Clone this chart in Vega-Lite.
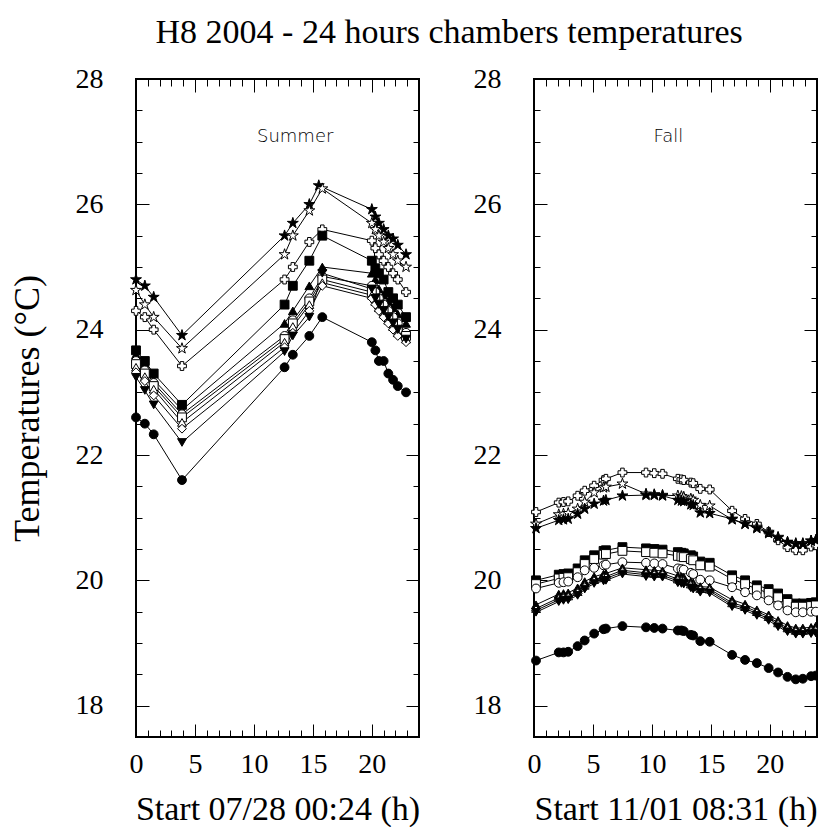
{
  "$schema": "https://vega.github.io/schema/vega-lite/v6.json",
  "padding": {"left": 8, "top": 16, "right": 0, "bottom": 0},
  "title": {"text": "H8 2004 - 24 hours chambers temperatures", "font": "Liberation Serif", "fontSize": 34, "fontWeight": "normal", "color": "black", "anchor": "middle", "offset": 14, "dx": 33},
  "config": {
    "view": {"stroke": "black", "strokeWidth": 2},
    "axis": {"domain": false, "grid": false, "labelFont": "Liberation Serif", "labelFontSize": 28, "labelColor": "black", "titleFont": "Liberation Serif", "titleFontSize": 34, "titleFontWeight": "normal", "titleColor": "black", "tickColor": "black", "tickWidth": 1, "labelOverlap": false, "labelFlush": false}
  },
  "spacing": 51,
  "datasets": {
    "summer": [
      {"s":"ST","t":0,"v":24.8},{"s":"ST","t":0.75,"v":24.7},{"s":"ST","t":1.5,"v":24.52},{"s":"ST","t":3.9,"v":23.91},{"s":"ST","t":12.6,"v":25.5},{"s":"ST","t":13.3,"v":25.7},{"s":"ST","t":14.7,"v":26.0},{"s":"ST","t":15.5,"v":26.3},{"s":"ST","t":20.0,"v":25.92},{"s":"ST","t":20.3,"v":25.8},{"s":"ST","t":20.6,"v":25.7},{"s":"ST","t":21.0,"v":25.6},{"s":"ST","t":21.4,"v":25.5},{"s":"ST","t":21.8,"v":25.45},{"s":"ST","t":22.2,"v":25.35},{"s":"ST","t":22.9,"v":25.2},
      {"s":"OSt","t":0,"v":24.63},{"s":"OSt","t":0.75,"v":24.4},{"s":"OSt","t":1.5,"v":24.2},{"s":"OSt","t":3.9,"v":23.7},{"s":"OSt","t":12.6,"v":25.2},{"s":"OSt","t":13.3,"v":25.5},{"s":"OSt","t":14.7,"v":25.9},{"s":"OSt","t":15.8,"v":26.25},{"s":"OSt","t":20.0,"v":25.7},{"s":"OSt","t":20.3,"v":25.6},{"s":"OSt","t":20.6,"v":25.5},{"s":"OSt","t":21.0,"v":25.4},{"s":"OSt","t":21.4,"v":25.3},{"s":"OSt","t":21.8,"v":25.2},{"s":"OSt","t":22.2,"v":25.1},{"s":"OSt","t":22.9,"v":25.0},
      {"s":"OX","t":0,"v":24.3},{"s":"OX","t":0.75,"v":24.2},{"s":"OX","t":1.5,"v":24.0},{"s":"OX","t":3.9,"v":23.42},{"s":"OX","t":12.6,"v":24.8},{"s":"OX","t":13.3,"v":25.0},{"s":"OX","t":14.7,"v":25.4},{"s":"OX","t":15.8,"v":25.6},{"s":"OX","t":20.0,"v":25.42},{"s":"OX","t":20.3,"v":25.3},{"s":"OX","t":20.6,"v":25.2},{"s":"OX","t":21.0,"v":25.1},{"s":"OX","t":21.4,"v":25.0},{"s":"OX","t":21.8,"v":24.9},{"s":"OX","t":22.2,"v":24.8},{"s":"OX","t":22.9,"v":24.6},
      {"s":"FS","t":0,"v":23.67},{"s":"FS","t":0.75,"v":23.5},{"s":"FS","t":1.5,"v":23.3},{"s":"FS","t":3.9,"v":22.8},{"s":"FS","t":12.6,"v":24.4},{"s":"FS","t":13.3,"v":24.7},{"s":"FS","t":14.7,"v":25.1},{"s":"FS","t":15.8,"v":25.5},{"s":"FS","t":20.0,"v":25.1},{"s":"FS","t":20.3,"v":24.98},{"s":"FS","t":20.6,"v":24.9},{"s":"FS","t":21.0,"v":24.8},{"s":"FS","t":21.4,"v":24.6},{"s":"FS","t":21.8,"v":24.5},{"s":"FS","t":22.2,"v":24.4},{"s":"FS","t":22.9,"v":24.2},
      {"s":"FT","t":0,"v":23.6},{"s":"FT","t":0.75,"v":23.45},{"s":"FT","t":1.5,"v":23.2},{"s":"FT","t":3.9,"v":22.72},{"s":"FT","t":12.6,"v":24.1},{"s":"FT","t":13.3,"v":24.3},{"s":"FT","t":14.7,"v":24.7},{"s":"FT","t":15.8,"v":25.0},{"s":"FT","t":20.0,"v":24.9},{"s":"FT","t":20.3,"v":24.8},{"s":"FT","t":20.6,"v":24.65},{"s":"FT","t":21.0,"v":24.55},{"s":"FT","t":21.4,"v":24.45},{"s":"FT","t":21.8,"v":24.35},{"s":"FT","t":22.2,"v":24.25},{"s":"FT","t":22.9,"v":24.1},
      {"s":"OC","t":0,"v":23.5},{"s":"OC","t":0.75,"v":23.35},{"s":"OC","t":1.5,"v":23.15},{"s":"OC","t":3.9,"v":22.65},{"s":"OC","t":12.6,"v":23.9},{"s":"OC","t":13.3,"v":24.15},{"s":"OC","t":14.7,"v":24.5},{"s":"OC","t":15.8,"v":24.85},{"s":"OC","t":20.0,"v":24.7},{"s":"OC","t":20.3,"v":24.6},{"s":"OC","t":20.6,"v":24.5},{"s":"OC","t":21.0,"v":24.4},{"s":"OC","t":21.4,"v":24.3},{"s":"OC","t":21.8,"v":24.2},{"s":"OC","t":22.2,"v":24.1},{"s":"OC","t":22.9,"v":23.95},
      {"s":"OS","t":0,"v":23.45},{"s":"OS","t":0.75,"v":23.3},{"s":"OS","t":1.5,"v":23.1},{"s":"OS","t":3.9,"v":22.6},{"s":"OS","t":12.6,"v":23.85},{"s":"OS","t":13.3,"v":24.1},{"s":"OS","t":14.7,"v":24.45},{"s":"OS","t":15.8,"v":24.8},{"s":"OS","t":20.0,"v":24.6},{"s":"OS","t":20.3,"v":24.5},{"s":"OS","t":20.6,"v":24.4},{"s":"OS","t":21.0,"v":24.3},{"s":"OS","t":21.4,"v":24.2},{"s":"OS","t":21.8,"v":24.1},{"s":"OS","t":22.2,"v":24.0},{"s":"OS","t":22.9,"v":23.9},
      {"s":"OT","t":0,"v":23.4},{"s":"OT","t":0.75,"v":23.25},{"s":"OT","t":1.5,"v":23.05},{"s":"OT","t":3.9,"v":22.52},{"s":"OT","t":12.6,"v":23.8},{"s":"OT","t":13.3,"v":24.05},{"s":"OT","t":14.7,"v":24.4},{"s":"OT","t":15.8,"v":24.75},{"s":"OT","t":20.0,"v":24.55},{"s":"OT","t":20.3,"v":24.45},{"s":"OT","t":20.6,"v":24.35},{"s":"OT","t":21.0,"v":24.25},{"s":"OT","t":21.4,"v":24.15},{"s":"OT","t":21.8,"v":24.05},{"s":"OT","t":22.2,"v":23.95},{"s":"OT","t":22.9,"v":23.85},
      {"s":"OD","t":0,"v":23.32},{"s":"OD","t":0.75,"v":23.18},{"s":"OD","t":1.5,"v":22.95},{"s":"OD","t":3.9,"v":22.42},{"s":"OD","t":12.6,"v":23.72},{"s":"OD","t":13.3,"v":23.95},{"s":"OD","t":14.7,"v":24.3},{"s":"OD","t":15.8,"v":24.7},{"s":"OD","t":20.0,"v":24.5},{"s":"OD","t":20.3,"v":24.4},{"s":"OD","t":20.6,"v":24.3},{"s":"OD","t":21.0,"v":24.2},{"s":"OD","t":21.4,"v":24.1},{"s":"OD","t":21.8,"v":24.0},{"s":"OD","t":22.2,"v":23.9},{"s":"OD","t":22.9,"v":23.8},
      {"s":"FD","t":0,"v":23.24},{"s":"FD","t":0.75,"v":23.03},{"s":"FD","t":1.5,"v":22.8},{"s":"FD","t":3.9,"v":22.2},{"s":"FD","t":12.6,"v":23.65},{"s":"FD","t":13.3,"v":23.9},{"s":"FD","t":14.7,"v":24.2},{"s":"FD","t":15.8,"v":24.9},{"s":"FD","t":20.0,"v":24.65},{"s":"FD","t":20.3,"v":24.5},{"s":"FD","t":20.6,"v":24.4},{"s":"FD","t":21.0,"v":24.3},{"s":"FD","t":21.4,"v":24.2},{"s":"FD","t":21.8,"v":24.1},{"s":"FD","t":22.2,"v":24.0},{"s":"FD","t":22.9,"v":23.85},
      {"s":"FC","t":0,"v":22.6},{"s":"FC","t":0.75,"v":22.5},{"s":"FC","t":1.5,"v":22.33},{"s":"FC","t":3.9,"v":21.6},{"s":"FC","t":12.6,"v":23.4},{"s":"FC","t":13.3,"v":23.6},{"s":"FC","t":14.7,"v":23.9},{"s":"FC","t":15.8,"v":24.2},{"s":"FC","t":20.0,"v":23.8},{"s":"FC","t":20.3,"v":23.67},{"s":"FC","t":20.6,"v":23.5},{"s":"FC","t":21.0,"v":23.5},{"s":"FC","t":21.4,"v":23.3},{"s":"FC","t":21.8,"v":23.2},{"s":"FC","t":22.2,"v":23.1},{"s":"FC","t":22.9,"v":23.0}
    ],
    "fall": [
      {"s":"FC","t":0.17,"v":18.72},{"s":"FC","t":2.1,"v":18.85},{"s":"FC","t":2.5,"v":18.85},{"s":"FC","t":2.9,"v":18.86},{"s":"FC","t":3.7,"v":18.95},{"s":"FC","t":4.3,"v":19.04},{"s":"FC","t":5.1,"v":19.15},{"s":"FC","t":5.9,"v":19.22},{"s":"FC","t":6.1,"v":19.23},{"s":"FC","t":7.5,"v":19.27},{"s":"FC","t":9.5,"v":19.25},{"s":"FC","t":10.2,"v":19.24},{"s":"FC","t":10.9,"v":19.23},{"s":"FC","t":12.2,"v":19.2},{"s":"FC","t":12.5,"v":19.2},{"s":"FC","t":12.7,"v":19.19},{"s":"FC","t":13.3,"v":19.13},{"s":"FC","t":13.5,"v":19.12},{"s":"FC","t":14.1,"v":19.03},{"s":"FC","t":14.9,"v":19.02},{"s":"FC","t":16.8,"v":18.81},{"s":"FC","t":17.9,"v":18.73},{"s":"FC","t":18.9,"v":18.68},{"s":"FC","t":19.9,"v":18.6},{"s":"FC","t":20.7,"v":18.53},{"s":"FC","t":21.5,"v":18.46},{"s":"FC","t":22.2,"v":18.42},{"s":"FC","t":22.8,"v":18.43},{"s":"FC","t":23.5,"v":18.47},{"s":"FC","t":23.9,"v":18.48},
      {"s":"OX","t":0.17,"v":21.09},{"s":"OX","t":2.1,"v":21.24},{"s":"OX","t":2.5,"v":21.25},{"s":"OX","t":2.9,"v":21.26},{"s":"OX","t":3.7,"v":21.35},{"s":"OX","t":4.3,"v":21.43},{"s":"OX","t":5.1,"v":21.51},{"s":"OX","t":5.9,"v":21.6},{"s":"OX","t":6.1,"v":21.62},{"s":"OX","t":7.5,"v":21.72},{"s":"OX","t":9.5,"v":21.72},{"s":"OX","t":10.2,"v":21.71},{"s":"OX","t":10.9,"v":21.7},{"s":"OX","t":12.2,"v":21.62},{"s":"OX","t":12.5,"v":21.61},{"s":"OX","t":12.7,"v":21.6},{"s":"OX","t":13.3,"v":21.56},{"s":"OX","t":13.5,"v":21.55},{"s":"OX","t":14.1,"v":21.46},{"s":"OX","t":14.9,"v":21.45},{"s":"OX","t":16.8,"v":21.11},{"s":"OX","t":17.9,"v":20.98},{"s":"OX","t":18.9,"v":20.9},{"s":"OX","t":19.9,"v":20.77},{"s":"OX","t":20.7,"v":20.64},{"s":"OX","t":21.5,"v":20.53},{"s":"OX","t":22.2,"v":20.48},{"s":"OX","t":22.8,"v":20.48},{"s":"OX","t":23.5,"v":20.54},{"s":"OX","t":23.9,"v":20.56},
      {"s":"OSt","t":0.17,"v":20.9},{"s":"OSt","t":2.1,"v":21.05},{"s":"OSt","t":2.5,"v":21.06},{"s":"OSt","t":2.9,"v":21.07},{"s":"OSt","t":3.7,"v":21.14},{"s":"OSt","t":4.3,"v":21.25},{"s":"OSt","t":5.1,"v":21.4},{"s":"OSt","t":5.9,"v":21.48},{"s":"OSt","t":6.1,"v":21.49},{"s":"OSt","t":7.5,"v":21.54},{"s":"OSt","t":9.5,"v":21.38},{"s":"OSt","t":10.2,"v":21.37},{"s":"OSt","t":10.9,"v":21.36},{"s":"OSt","t":12.2,"v":21.35},{"s":"OSt","t":12.5,"v":21.34},{"s":"OSt","t":12.7,"v":21.33},{"s":"OSt","t":13.3,"v":21.3},{"s":"OSt","t":13.5,"v":21.28},{"s":"OSt","t":14.1,"v":21.2},{"s":"OSt","t":14.9,"v":21.19},{"s":"OSt","t":16.8,"v":20.97},{"s":"OSt","t":17.9,"v":20.9},{"s":"OSt","t":18.9,"v":20.85},{"s":"OSt","t":19.9,"v":20.77},{"s":"OSt","t":20.7,"v":20.69},{"s":"OSt","t":21.5,"v":20.61},{"s":"OSt","t":22.2,"v":20.59},{"s":"OSt","t":22.8,"v":20.59},{"s":"OSt","t":23.5,"v":20.63},{"s":"OSt","t":23.9,"v":20.64},
      {"s":"ST","t":0.17,"v":20.83},{"s":"ST","t":2.1,"v":20.96},{"s":"ST","t":2.5,"v":20.97},{"s":"ST","t":2.9,"v":20.98},{"s":"ST","t":3.7,"v":21.06},{"s":"ST","t":4.3,"v":21.14},{"s":"ST","t":5.1,"v":21.22},{"s":"ST","t":5.9,"v":21.27},{"s":"ST","t":6.1,"v":21.28},{"s":"ST","t":7.5,"v":21.35},{"s":"ST","t":9.5,"v":21.36},{"s":"ST","t":10.2,"v":21.36},{"s":"ST","t":10.9,"v":21.35},{"s":"ST","t":12.2,"v":21.28},{"s":"ST","t":12.5,"v":21.27},{"s":"ST","t":12.7,"v":21.26},{"s":"ST","t":13.3,"v":21.21},{"s":"ST","t":13.5,"v":21.2},{"s":"ST","t":14.1,"v":21.08},{"s":"ST","t":14.9,"v":21.07},{"s":"ST","t":16.8,"v":20.98},{"s":"ST","t":17.9,"v":20.9},{"s":"ST","t":18.9,"v":20.83},{"s":"ST","t":19.9,"v":20.75},{"s":"ST","t":20.7,"v":20.68},{"s":"ST","t":21.5,"v":20.61},{"s":"ST","t":22.2,"v":20.58},{"s":"ST","t":22.8,"v":20.58},{"s":"ST","t":23.5,"v":20.63},{"s":"ST","t":23.9,"v":20.64},
      {"s":"FS","t":0.17,"v":20.0},{"s":"FS","t":2.1,"v":20.09},{"s":"FS","t":2.5,"v":20.1},{"s":"FS","t":2.9,"v":20.11},{"s":"FS","t":3.7,"v":20.19},{"s":"FS","t":4.3,"v":20.32},{"s":"FS","t":5.1,"v":20.4},{"s":"FS","t":5.9,"v":20.47},{"s":"FS","t":6.1,"v":20.48},{"s":"FS","t":7.5,"v":20.53},{"s":"FS","t":9.5,"v":20.51},{"s":"FS","t":10.2,"v":20.5},{"s":"FS","t":10.9,"v":20.49},{"s":"FS","t":12.2,"v":20.45},{"s":"FS","t":12.5,"v":20.44},{"s":"FS","t":12.7,"v":20.43},{"s":"FS","t":13.3,"v":20.4},{"s":"FS","t":13.5,"v":20.38},{"s":"FS","t":14.1,"v":20.3},{"s":"FS","t":14.9,"v":20.28},{"s":"FS","t":16.8,"v":20.08},{"s":"FS","t":17.9,"v":20.0},{"s":"FS","t":18.9,"v":19.92},{"s":"FS","t":19.9,"v":19.86},{"s":"FS","t":20.7,"v":19.79},{"s":"FS","t":21.5,"v":19.7},{"s":"FS","t":22.2,"v":19.63},{"s":"FS","t":22.8,"v":19.63},{"s":"FS","t":23.5,"v":19.64},{"s":"FS","t":23.9,"v":19.65},
      {"s":"OS","t":0.17,"v":19.94},{"s":"OS","t":2.1,"v":20.03},{"s":"OS","t":2.5,"v":20.04},{"s":"OS","t":2.9,"v":20.05},{"s":"OS","t":3.7,"v":20.13},{"s":"OS","t":4.3,"v":20.26},{"s":"OS","t":5.1,"v":20.34},{"s":"OS","t":5.9,"v":20.41},{"s":"OS","t":6.1,"v":20.42},{"s":"OS","t":7.5,"v":20.47},{"s":"OS","t":9.5,"v":20.45},{"s":"OS","t":10.2,"v":20.44},{"s":"OS","t":10.9,"v":20.43},{"s":"OS","t":12.2,"v":20.39},{"s":"OS","t":12.5,"v":20.38},{"s":"OS","t":12.7,"v":20.37},{"s":"OS","t":13.3,"v":20.34},{"s":"OS","t":13.5,"v":20.32},{"s":"OS","t":14.1,"v":20.24},{"s":"OS","t":14.9,"v":20.22},{"s":"OS","t":16.8,"v":20.02},{"s":"OS","t":17.9,"v":19.94},{"s":"OS","t":18.9,"v":19.86},{"s":"OS","t":19.9,"v":19.8},{"s":"OS","t":20.7,"v":19.73},{"s":"OS","t":21.5,"v":19.64},{"s":"OS","t":22.2,"v":19.58},{"s":"OS","t":22.8,"v":19.58},{"s":"OS","t":23.5,"v":19.59},{"s":"OS","t":23.9,"v":19.6},
      {"s":"OC","t":0.17,"v":19.87},{"s":"OC","t":2.1,"v":19.96},{"s":"OC","t":2.5,"v":19.97},{"s":"OC","t":2.9,"v":19.98},{"s":"OC","t":3.7,"v":20.05},{"s":"OC","t":4.3,"v":20.16},{"s":"OC","t":5.1,"v":20.2},{"s":"OC","t":5.9,"v":20.24},{"s":"OC","t":6.1,"v":20.25},{"s":"OC","t":7.5,"v":20.29},{"s":"OC","t":9.5,"v":20.28},{"s":"OC","t":10.2,"v":20.27},{"s":"OC","t":10.9,"v":20.26},{"s":"OC","t":12.2,"v":20.19},{"s":"OC","t":12.5,"v":20.18},{"s":"OC","t":12.7,"v":20.17},{"s":"OC","t":13.3,"v":20.12},{"s":"OC","t":13.5,"v":20.1},{"s":"OC","t":14.1,"v":20.01},{"s":"OC","t":14.9,"v":20.0},{"s":"OC","t":16.8,"v":19.89},{"s":"OC","t":17.9,"v":19.81},{"s":"OC","t":18.9,"v":19.76},{"s":"OC","t":19.9,"v":19.68},{"s":"OC","t":20.7,"v":19.6},{"s":"OC","t":21.5,"v":19.52},{"s":"OC","t":22.2,"v":19.49},{"s":"OC","t":22.8,"v":19.49},{"s":"OC","t":23.5,"v":19.5},{"s":"OC","t":23.9,"v":19.5},
      {"s":"FT","t":0.17,"v":19.61},{"s":"FT","t":2.1,"v":19.78},{"s":"FT","t":2.5,"v":19.79},{"s":"FT","t":2.9,"v":19.8},{"s":"FT","t":3.7,"v":19.88},{"s":"FT","t":4.3,"v":19.98},{"s":"FT","t":5.1,"v":20.06},{"s":"FT","t":5.9,"v":20.1},{"s":"FT","t":6.1,"v":20.11},{"s":"FT","t":7.5,"v":20.2},{"s":"FT","t":9.5,"v":20.17},{"s":"FT","t":10.2,"v":20.16},{"s":"FT","t":10.9,"v":20.15},{"s":"FT","t":12.2,"v":20.07},{"s":"FT","t":12.5,"v":20.06},{"s":"FT","t":12.7,"v":20.05},{"s":"FT","t":13.3,"v":19.98},{"s":"FT","t":13.5,"v":19.96},{"s":"FT","t":14.1,"v":19.9},{"s":"FT","t":14.9,"v":19.89},{"s":"FT","t":16.8,"v":19.69},{"s":"FT","t":17.9,"v":19.62},{"s":"FT","t":18.9,"v":19.53},{"s":"FT","t":19.9,"v":19.45},{"s":"FT","t":20.7,"v":19.36},{"s":"FT","t":21.5,"v":19.28},{"s":"FT","t":22.2,"v":19.24},{"s":"FT","t":22.8,"v":19.24},{"s":"FT","t":23.5,"v":19.25},{"s":"FT","t":23.9,"v":19.27},
      {"s":"OT","t":0.17,"v":19.55},{"s":"OT","t":2.1,"v":19.72},{"s":"OT","t":2.5,"v":19.74},{"s":"OT","t":2.9,"v":19.75},{"s":"OT","t":3.7,"v":19.82},{"s":"OT","t":4.3,"v":19.92},{"s":"OT","t":5.1,"v":20.01},{"s":"OT","t":5.9,"v":20.05},{"s":"OT","t":6.1,"v":20.06},{"s":"OT","t":7.5,"v":20.16},{"s":"OT","t":9.5,"v":20.12},{"s":"OT","t":10.2,"v":20.11},{"s":"OT","t":10.9,"v":20.11},{"s":"OT","t":12.2,"v":20.02},{"s":"OT","t":12.5,"v":20.01},{"s":"OT","t":12.7,"v":20.0},{"s":"OT","t":13.3,"v":19.94},{"s":"OT","t":13.5,"v":19.92},{"s":"OT","t":14.1,"v":19.87},{"s":"OT","t":14.9,"v":19.86},{"s":"OT","t":16.8,"v":19.64},{"s":"OT","t":17.9,"v":19.58},{"s":"OT","t":18.9,"v":19.5},{"s":"OT","t":19.9,"v":19.42},{"s":"OT","t":20.7,"v":19.32},{"s":"OT","t":21.5,"v":19.24},{"s":"OT","t":22.2,"v":19.2},{"s":"OT","t":22.8,"v":19.2},{"s":"OT","t":23.5,"v":19.21},{"s":"OT","t":23.9,"v":19.22},
      {"s":"OD","t":0.17,"v":19.52},{"s":"OD","t":2.1,"v":19.69},{"s":"OD","t":2.5,"v":19.71},{"s":"OD","t":2.9,"v":19.72},{"s":"OD","t":3.7,"v":19.79},{"s":"OD","t":4.3,"v":19.89},{"s":"OD","t":5.1,"v":19.98},{"s":"OD","t":5.9,"v":20.02},{"s":"OD","t":6.1,"v":20.03},{"s":"OD","t":7.5,"v":20.13},{"s":"OD","t":9.5,"v":20.09},{"s":"OD","t":10.2,"v":20.08},{"s":"OD","t":10.9,"v":20.08},{"s":"OD","t":12.2,"v":19.99},{"s":"OD","t":12.5,"v":19.98},{"s":"OD","t":12.7,"v":19.97},{"s":"OD","t":13.3,"v":19.91},{"s":"OD","t":13.5,"v":19.89},{"s":"OD","t":14.1,"v":19.84},{"s":"OD","t":14.9,"v":19.83},{"s":"OD","t":16.8,"v":19.61},{"s":"OD","t":17.9,"v":19.55},{"s":"OD","t":18.9,"v":19.47},{"s":"OD","t":19.9,"v":19.39},{"s":"OD","t":20.7,"v":19.29},{"s":"OD","t":21.5,"v":19.21},{"s":"OD","t":22.2,"v":19.17},{"s":"OD","t":22.8,"v":19.17},{"s":"OD","t":23.5,"v":19.18},{"s":"OD","t":23.9,"v":19.19},
      {"s":"FD","t":0.17,"v":19.49},{"s":"FD","t":2.1,"v":19.66},{"s":"FD","t":2.5,"v":19.68},{"s":"FD","t":2.9,"v":19.69},{"s":"FD","t":3.7,"v":19.76},{"s":"FD","t":4.3,"v":19.86},{"s":"FD","t":5.1,"v":19.95},{"s":"FD","t":5.9,"v":19.99},{"s":"FD","t":6.1,"v":20.0},{"s":"FD","t":7.5,"v":20.1},{"s":"FD","t":9.5,"v":20.06},{"s":"FD","t":10.2,"v":20.05},{"s":"FD","t":10.9,"v":20.05},{"s":"FD","t":12.2,"v":19.96},{"s":"FD","t":12.5,"v":19.95},{"s":"FD","t":12.7,"v":19.94},{"s":"FD","t":13.3,"v":19.88},{"s":"FD","t":13.5,"v":19.86},{"s":"FD","t":14.1,"v":19.81},{"s":"FD","t":14.9,"v":19.8},{"s":"FD","t":16.8,"v":19.58},{"s":"FD","t":17.9,"v":19.52},{"s":"FD","t":18.9,"v":19.44},{"s":"FD","t":19.9,"v":19.36},{"s":"FD","t":20.7,"v":19.26},{"s":"FD","t":21.5,"v":19.18},{"s":"FD","t":22.2,"v":19.14},{"s":"FD","t":22.8,"v":19.14},{"s":"FD","t":23.5,"v":19.15},{"s":"FD","t":23.9,"v":19.16}
    ]
  },
  "hconcat": [
    {
      "width": 283, "height": 658,
      "data": {"name": "summer"},
      "layer": [
        {
          "mark": {"type": "line", "color": "black", "strokeWidth": 1},
          "encoding": {
            "x": {"field": "t", "type": "quantitative", "scale": {"domain": [0, 24], "nice": false, "zero": false},
                  "axis": {"orient": "bottom", "title": "Start 07/28 00:24 (h)", "values": [0,1,2,3,4,5,6,7,8,9,10,11,12,13,14,15,16,17,18,19,20,21,22,23,24],
                           "offset": -7, "tickSize": 7,
                           "labelExpr": "datum.value % 5 === 0 && datum.value < 24 ? datum.label : ''", "labelPadding": 13, "titlePadding": 14}},
            "y": {"field": "v", "type": "quantitative", "scale": {"domain": [17.5, 28], "nice": false, "zero": false},
                  "axis": {"orient": "left", "title": "Temperatures (°C)", "titleFontSize": 36, "values": [18,20,22,24,26,28],
                           "offset": -13, "tickSize": 13, "format": "d", "labelPadding": 33, "titlePadding": 29}},
            "detail": {"field": "s"}
          }
        },
        {
          "mark": {"type": "point", "filled": true, "stroke": "black", "strokeWidth": 1, "size": 78, "opacity": 1},
          "encoding": {
            "x": {"field": "t", "type": "quantitative", "axis": null},
            "y": {"field": "v", "type": "quantitative", "axis": null},
            "shape": {"field": "s", "type": "nominal", "legend": null, "scale": {"domain": ["FC","FS","FT","FD","OC","OS","OT","OD","OX","ST","OSt"], "range": ["circle","square","triangle-up","triangle-down","circle","square","triangle-up","diamond","cross","M0,-1.3L0.29,-0.4L1.24,-0.4L0.47,0.15L0.76,1.05L0,0.49L-0.76,1.05L-0.47,0.15L-1.24,-0.4L-0.29,-0.4Z","M0,-1.3L0.29,-0.4L1.24,-0.4L0.47,0.15L0.76,1.05L0,0.49L-0.76,1.05L-0.47,0.15L-1.24,-0.4L-0.29,-0.4Z"]}},
            "fill": {"field": "s", "type": "nominal", "legend": null, "scale": {"domain": ["FC","FS","FT","FD","OC","OS","OT","OD","OX","ST","OSt"], "range": ["black","black","black","black","white","white","white","white","white","black","white"]}}
          }
        },
        {
          "data": {"values": [{"label": "Summer"}]},
          "mark": {"type": "text", "font": "DejaVu Sans", "fontSize": 18, "fontWeight": 300, "color": "black", "align": "center", "baseline": "middle"},
          "encoding": {
            "x": {"datum": 13.5, "type": "quantitative", "axis": null},
            "y": {"datum": 27.07, "type": "quantitative", "axis": null},
            "text": {"field": "label"}
          }
        },
        {
          "mark": {"type": "point", "opacity": 0},
          "encoding": {
            "x": {"field": "t", "type": "quantitative", "axis": {"orient": "top", "title": null, "labels": false, "values": [0,1,2,3,4,5,6,7,8,9,10,11,12,13,14,15,16,17,18,19,20,21,22,23,24], "offset": -7, "tickSize": 7}},
            "y": {"field": "v", "type": "quantitative", "axis": {"orient": "right", "title": null, "labels": false, "values": [17.5,18,18.5,19,19.5,20,20.5,21,21.5,22,22.5,23,23.5,24,24.5,25,25.5,26,26.5,27,27.5,28], "offset": -6, "tickSize": 6}}
          }
        },
        {
          "mark": {"type": "point", "opacity": 0},
          "encoding": {
            "x": {"field": "t", "type": "quantitative", "axis": {"orient": "bottom", "title": null, "labels": false, "values": [0,5,10,15,20], "offset": -13, "tickSize": 13}},
            "y": {"field": "v", "type": "quantitative", "axis": {"orient": "left", "title": null, "labels": false, "values": [17.5,18,18.5,19,19.5,20,20.5,21,21.5,22,22.5,23,23.5,24,24.5,25,25.5,26,26.5,27,27.5,28], "offset": -6, "tickSize": 6}}
          }
        },
        {
          "mark": {"type": "point", "opacity": 0},
          "encoding": {
            "x": {"field": "t", "type": "quantitative", "axis": {"orient": "top", "title": null, "labels": false, "values": [0,5,10,15,20], "offset": -13, "tickSize": 13}},
            "y": {"field": "v", "type": "quantitative", "axis": {"orient": "right", "title": null, "labels": false, "values": [18,20,22,24,26,28], "offset": -13, "tickSize": 13}}
          }
        }
      ]
    },
    {
      "width": 283, "height": 658,
      "data": {"name": "fall"},
      "layer": [
        {
          "mark": {"type": "line", "color": "black", "strokeWidth": 1},
          "encoding": {
            "x": {"field": "t", "type": "quantitative", "scale": {"domain": [0, 24], "nice": false, "zero": false},
                  "axis": {"orient": "bottom", "title": "Start 11/01 08:31 (h)", "values": [0,1,2,3,4,5,6,7,8,9,10,11,12,13,14,15,16,17,18,19,20,21,22,23,24],
                           "offset": -7, "tickSize": 7,
                           "labelExpr": "datum.value % 5 === 0 && datum.value < 24 ? datum.label : ''", "labelPadding": 13, "titlePadding": 14}},
            "y": {"field": "v", "type": "quantitative", "scale": {"domain": [17.5, 28], "nice": false, "zero": false},
                  "axis": {"orient": "left", "title": null, "values": [18,20,22,24,26,28],
                           "offset": -13, "tickSize": 13, "format": "d", "labelPadding": 33}},
            "detail": {"field": "s"}
          }
        },
        {
          "mark": {"type": "point", "filled": true, "stroke": "black", "strokeWidth": 1, "size": 78, "opacity": 1},
          "encoding": {
            "x": {"field": "t", "type": "quantitative", "axis": null},
            "y": {"field": "v", "type": "quantitative", "axis": null},
            "shape": {"field": "s", "type": "nominal", "legend": null, "scale": {"domain": ["FC","FS","FT","FD","OC","OS","OT","OD","OX","ST","OSt"], "range": ["circle","square","triangle-up","triangle-down","circle","square","triangle-up","diamond","cross","M0,-1.3L0.29,-0.4L1.24,-0.4L0.47,0.15L0.76,1.05L0,0.49L-0.76,1.05L-0.47,0.15L-1.24,-0.4L-0.29,-0.4Z","M0,-1.3L0.29,-0.4L1.24,-0.4L0.47,0.15L0.76,1.05L0,0.49L-0.76,1.05L-0.47,0.15L-1.24,-0.4L-0.29,-0.4Z"]}},
            "fill": {"field": "s", "type": "nominal", "legend": null, "scale": {"domain": ["FC","FS","FT","FD","OC","OS","OT","OD","OX","ST","OSt"], "range": ["black","black","black","black","white","white","white","white","white","black","white"]}}
          }
        },
        {
          "data": {"values": [{"label": "Fall"}]},
          "mark": {"type": "text", "font": "DejaVu Sans", "fontSize": 18, "fontWeight": 300, "color": "black", "align": "center", "baseline": "middle"},
          "encoding": {
            "x": {"datum": 11.4, "type": "quantitative", "axis": null},
            "y": {"datum": 27.07, "type": "quantitative", "axis": null},
            "text": {"field": "label"}
          }
        },
        {
          "mark": {"type": "point", "opacity": 0},
          "encoding": {
            "x": {"field": "t", "type": "quantitative", "axis": {"orient": "top", "title": null, "labels": false, "values": [0,1,2,3,4,5,6,7,8,9,10,11,12,13,14,15,16,17,18,19,20,21,22,23,24], "offset": -7, "tickSize": 7}},
            "y": {"field": "v", "type": "quantitative", "axis": {"orient": "right", "title": null, "labels": false, "values": [17.5,18,18.5,19,19.5,20,20.5,21,21.5,22,22.5,23,23.5,24,24.5,25,25.5,26,26.5,27,27.5,28], "offset": -6, "tickSize": 6}}
          }
        },
        {
          "mark": {"type": "point", "opacity": 0},
          "encoding": {
            "x": {"field": "t", "type": "quantitative", "axis": {"orient": "bottom", "title": null, "labels": false, "values": [0,5,10,15,20], "offset": -13, "tickSize": 13}},
            "y": {"field": "v", "type": "quantitative", "axis": {"orient": "left", "title": null, "labels": false, "values": [17.5,18,18.5,19,19.5,20,20.5,21,21.5,22,22.5,23,23.5,24,24.5,25,25.5,26,26.5,27,27.5,28], "offset": -6, "tickSize": 6}}
          }
        },
        {
          "mark": {"type": "point", "opacity": 0},
          "encoding": {
            "x": {"field": "t", "type": "quantitative", "axis": {"orient": "top", "title": null, "labels": false, "values": [0,5,10,15,20], "offset": -13, "tickSize": 13}},
            "y": {"field": "v", "type": "quantitative", "axis": {"orient": "right", "title": null, "labels": false, "values": [18,20,22,24,26,28], "offset": -13, "tickSize": 13}}
          }
        }
      ]
    }
  ]
}
